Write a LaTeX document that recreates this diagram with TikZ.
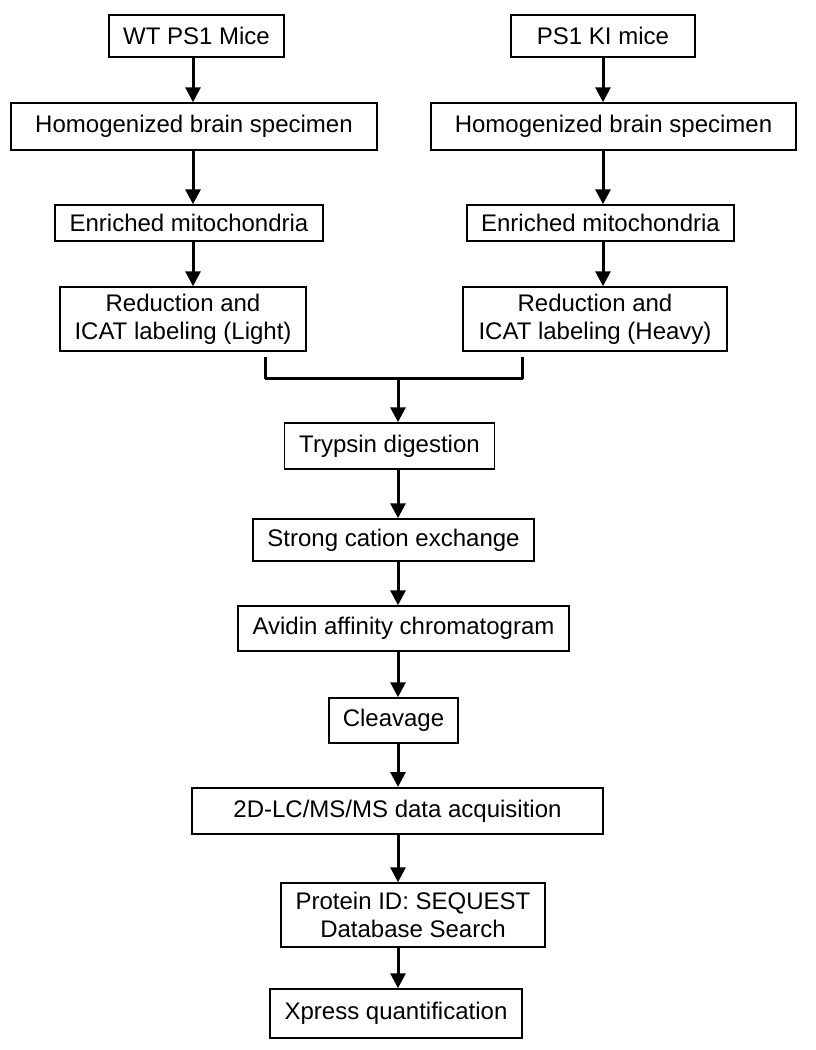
\documentclass[tikz,border=0pt]{standalone}
\usepackage{fontspec}
\setmainfont{Liberation Sans}
\usepackage{tikz}
\usetikzlibrary{arrows.meta,positioning}
\tikzset{
	>={Triangle[length=15pt,width=15pt]},
	stage/.style = {
			draw,
			line width = 1.5pt,
			fill       = white,
			align      = center,
			inner sep  = 0pt,
			font       = \fontsize{24}{28}\selectfont,
		},
	flow/.style = {->, line width = 3pt},
	bracket/.style = {line width = 3pt, line join = round},
}

\begin{document}
\begin{tikzpicture}[x=1pt,y=-1pt]
		\useasboundingbox (0,0) rectangle (815,1050);

		\coordinate (colL) at (193,0);
		\coordinate (colR) at (603,0);
		\coordinate (colM) at (398,0);

		\node[stage, minimum width=175pt, minimum height=42pt] at (196.5,36) (wt) {WT PS1 Mice};
		\node[stage, line width=2.2pt, minimum width=184pt, minimum height=42pt] at (603,36) (ki) {PS1 KI mice};

		\node[stage, minimum width=366pt, minimum height=47pt] at (194,126.5) (homL) {Homogenized brain specimen};
		\node[stage, minimum width=365pt, minimum height=47pt] at (613.5,126.5) (homR) {Homogenized brain specimen};

		\node[stage, minimum width=268pt, minimum height=36pt] at (189,223) (enrL) {Enriched mitochondria};
		\node[stage, minimum width=267pt, minimum height=36pt] at (600.5,223) (enrR) {Enriched mitochondria};

		\node[stage, minimum width=246pt, minimum height=64pt] at (183,319) (redL) {Reduction and\\ICAT labeling (Light)};
		\node[stage, minimum width=264pt, minimum height=64pt] at (595,319) (redR) {Reduction and\\ICAT labeling (Heavy)};

		\node[stage, minimum width=210pt, minimum height=46pt] at (389.5,446) (tryp) {Trypsin digestion};
		\node[stage, minimum width=281pt, minimum height=42pt] at (393.5,540) (scx) {Strong cation exchange};
		\node[stage, minimum width=331pt, minimum height=45pt] at (403.5,628.5) (avidin) {Avidin affinity chromatogram};
		\node[stage, minimum width=129pt, minimum height=45pt] at (393.5,720.5) (cleave) {Cleavage};
		\node[stage, line width=2pt, minimum width=411pt, minimum height=46pt] at (397.5,811) (lcms) {2D-LC/MS/MS data acquisition};
		\node[stage, minimum width=264pt, minimum height=64pt] at (413,915) (search) {Protein ID: SEQUEST\\Database Search};
		\node[stage, minimum width=252pt, minimum height=49pt] at (396,1013.5) (xpress) {Xpress quantification};

		\draw[flow] (wt.south -| colL) -- (homL.north -| colL);
		\draw[flow] (homL.south -| colL) -- (enrL.north -| colL);
		\draw[flow] (enrL.south -| colL) -- (redL.north -| colL);

		\draw[flow] (ki.south -| colR) -- (homR.north -| colR);
		\draw[flow] (homR.south -| colR) -- (enrR.north -| colR);
		\draw[flow] (enrR.south -| colR) -- (redR.north -| colR);

		\coordinate (mergeL) at (265,357);
		\coordinate (mergeR) at (522,357);
		\coordinate (merge) at (398,378);
		\draw[bracket] (mergeL) |- (merge) -| (mergeR);
		\draw[flow] (merge) -- (tryp.north -| colM);

		\draw[flow] (tryp.south -| colM) -- (scx.north -| colM);
		\draw[flow] (scx.south -| colM) -- (avidin.north -| colM);
		\draw[flow] (avidin.south -| colM) -- (cleave.north -| colM);
		\draw[flow] (cleave.south -| colM) -- (lcms.north -| colM);
		\draw[flow] (lcms.south -| colM) -- (search.north -| colM);
		\draw[flow] (search.south -| colM) -- (xpress.north -| colM);
	\end{tikzpicture}
\end{document}
